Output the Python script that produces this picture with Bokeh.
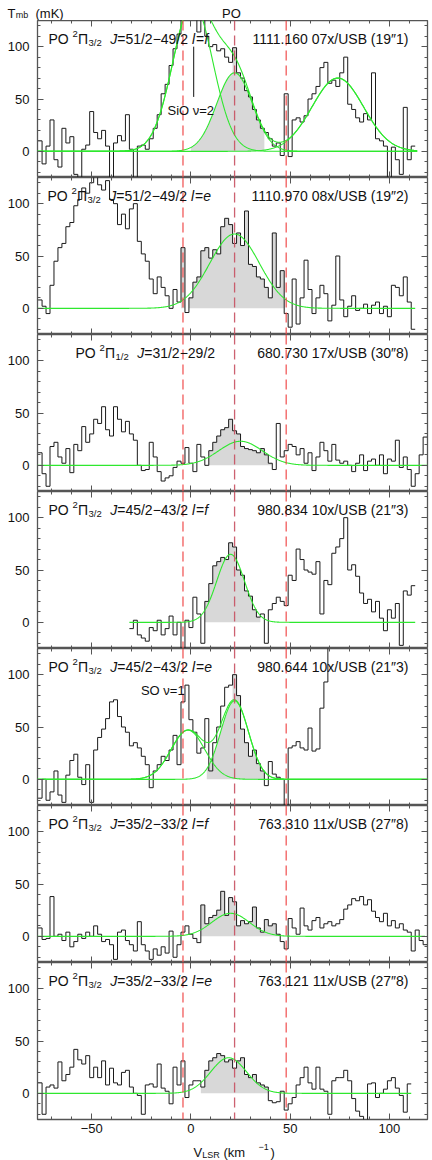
import numpy as np
from bokeh.plotting import figure
from bokeh.models import Range1d, LinearAxis, SingleIntervalTicker, Label, Span
from bokeh.layouts import column
from bokeh.embed import file_html
from bokeh.resources import INLINE

# ---------------- data ----------------
CHANNEL_WIDTH = 2.0          # km/s
X_RANGE = (-77.3, 119.2)
Y_RANGE = (-25.0, 125.0)
red_lines = [-4.0, 22.0, 48.0]

# spectra: first channel centre velocity and T_mb (mK) per channel
p1_v0 = -76.0
p1_tmb = [10, -12, 5, 30, -8, -15, 22, 8, 14, -22,
          -28, 2, 6, 38, 18, 12, 20, 5, -26, 8,
          15, 10, 35, 2, -28, 5, 6, 2, 12, 22,
          35, 55, 64, 82, 98, 112, 135, 150, 140, 150,
          114, 135, 110, 100, 102, 96, 98, 90, 85, 99,
          75, 70, 58, 52, 40, 30, 22, 18, 12, 5,
          8, -4, 55, -5, 30, 32, 28, 34, 50, 55,
          62, 80, 85, 65, 68, 62, 75, 90, 45, 40,
          32, 28, 36, 30, 75, 12, 10, 5, -25, 4,
          -8, -22, 42, -8, 5]
p2_v0 = -76.0
p2_tmb = [8, 2, -5, 22, 45, 58, 62, 78, 82, 98,
          104, 115, 110, 120, 128, 118, 113, 122, 104, 100,
          80, 90, 76, 95, 100, 64, 52, 45, 28, 14,
          30, 20, 12, 0, 18, 6, 58, -4, 10, 25,
          30, 55, 58, 48, 56, 52, 78, 86, 80, 62,
          72, 60, 93, 42, 40, 30, 28, 20, 10, 72,
          20, 36, -5, -18, 28, -15, 10, 46, 18, -5,
          10, 22, 14, -12, 3, 50, 8, -8, 2, 12,
          -2, 0, 4, -5, 3, 6, -5, 2, -8, 22,
          20, 12, 30, 6, -20]
p3_v0 = -76.0
p3_tmb = [12, -8, -20, 18, 22, 8, 2, 16, -7, 20,
          14, 37, 22, 30, 44, 40, 56, 34, 28, 56,
          44, 32, 42, 30, 24, 0, -5, -4, 22, 8,
          -6, -15, -12, -10, -2, 4, 2, 17, 2, -6,
          20, 8, 0, 14, 22, 28, 34, 36, 44, 33,
          30, 18, 16, 15, 14, 12, 16, 10, 2, -4,
          40, 8, 14, 20, 18, 10, 16, 2, 12, -5,
          8, 22, 14, 4, 20, 5, 2, 4, 0, -6,
          2, 10, -5, 4, 6, 0, 10, -8, 6, 4,
          24, -2, 8, -4, -20, -8, 10, 27]
p4_v0 = -30.0
p4_tmb = [-6, 2, -12, -15, -18, -5, -8, 2, -12, -6,
          6, -12, 0, -25, 2, -5, 24, 8, -20, 20,
          37, 54, 58, 62, 60, 76, 72, 50, 45, 30,
          25, 12, 5, 8, -20, 12, 18, 24, 20, 16,
          45, 40, 70, 60, 50, 48, 46, 58, 8, 40,
          36, 66, 72, 80, 100, 50, 55, 44, 28, 18,
          22, 10, 20, 4, -8, 12, 4, 18, -22, 30,
          26, 35]
p5_v0 = -76.0
p5_tmb = [-18, 0, -20, -12, 8, -15, -22, 4, 18, 24,
          2, -5, 14, -22, 28, 40, 48, 58, 74, 76,
          60, 50, 45, 32, 35, 30, 22, 14, -8, 8,
          14, 22, 18, 28, 42, 14, 74, 90, 57, 45,
          25, 30, 58, 8, 35, 50, 70, 88, 90, 100,
          80, 48, 35, 22, 28, 15, 8, -6, 17, 5,
          2, 0, -28, 30, 32, 36, 30, 28, 49, 27,
          29, 68, 93, 140, 170]
p6_v0 = -76.0
p6_tmb = [8, -3, -2, 38, 0, 2, -4, 4, -10, -5,
          2, -2, 4, 0, 10, 2, -5, -3, -8, -22,
          4, 6, -4, -8, -14, 14, -8, -14, -22, -12,
          -18, -10, -16, 5, -20, -8, 4, 10, 2, -2,
          -6, 30, 12, 18, 20, 25, 43, 20, 37, 33,
          10, 15, 12, 14, 28, 8, 4, 16, 10, 12,
          2, -5, -12, 17, 8, 2, 27, 10, 6, 15,
          18, 8, 12, 14, 10, 12, 16, 26, 30, 36,
          34, 38, 30, 35, 24, 18, 14, 22, 10, 15,
          8, 12, 6, 4, -14, 6, -4, -8]
p7_v0 = -76.0
p7_tmb = [10, -20, 6, 8, 5, 30, 12, 18, 25, 42,
          32, 28, 36, 15, 25, 15, 31, 8, 24, 10,
          8, 20, 22, 6, 0, -2, -20, 8, 9, 6,
          28, 5, 2, -10, 25, 8, 31, -4, 8, 12,
          12, 6, 22, 31, 34, 38, 36, 30, 32, 24,
          31, 34, 18, 15, 18, 10, 8, 6, -7, -9,
          -8, 2, -16, -10, -4, 8, 15, 25, 10, 4,
          25, 4, 2, -20, 12, 15, 15, 22, 12, -5,
          -17, -22, -28, 9, 10, -4, 0, 4, 12, 15,
          5, -2, -18, 9]

# Gaussian fit components (first one = PO line): amplitude (mK), centre, sigma (km/s)
p1_amp, p1_ctr, p1_sig = [75, 142, 70], [22, 1, 74], [9, 10, 13]
p2_amp, p2_ctr, p2_sig = [71], [22], [12.5]
p3_amp, p3_ctr, p3_sig = [23], [25], [11]
p4_amp, p4_ctr, p4_sig = [65], [20], [7]
p5_amp, p5_ctr, p5_sig = [75, 47], [22, -1.5], [7, 8.5]
p6_amp, p6_ctr, p6_sig = [22], [20], [9.5]
p7_amp, p7_ctr, p7_sig = [34], [19], [9]

fit_lo = [-77.3, -77.3, -77.3, -31.0, -77.3, -77.3, -77.3]
fit_hi = [114.0, 113.0, 119.2, 113.0, 119.2, 118.0, 111.0]
fill_lo = [0, -5, 7, 5, 8, 5, 5]
fill_hi = [37, 47, 41, 35, 37, 45, 39]
fill_gauss_left = [True, False, False, False, True, False, False]

panel_omega = ["3/2", "3/2", "1/2", "3/2", "3/2", "3/2", "3/2"]
panel_trans = ["=51/2\u221249/2", "=51/2\u221249/2", "=31/2\u221229/2", "=45/2\u221243/2",
               "=45/2\u221243/2", "=35/2\u221233/2", "=35/2\u221233/2"]
panel_parity = ["f", "e", "", "f", "e", "f", "e"]
panel_freq = ["1111.160 07x/USB (19\u20331)", "1110.970 08x/USB (19\u20332)",
              "680.730 17x/USB (30\u20338)", "980.834 10x/USB (21\u20333)",
              "980.644 10x/USB (21\u20333)", "763.310 11x/USB (27\u20338)",
              "763.121 11x/USB (27\u20338)"]

spectra = [(p1_v0, p1_tmb), (p2_v0, p2_tmb), (p3_v0, p3_tmb), (p4_v0, p4_tmb),
           (p5_v0, p5_tmb), (p6_v0, p6_tmb), (p7_v0, p7_tmb)]
fits = [(p1_amp, p1_ctr, p1_sig), (p2_amp, p2_ctr, p2_sig), (p3_amp, p3_ctr, p3_sig),
        (p4_amp, p4_ctr, p4_sig), (p5_amp, p5_ctr, p5_sig), (p6_amp, p6_ctr, p6_sig),
        (p7_amp, p7_ctr, p7_sig)]

# ---------------- style ----------------
FONT = "Liberation Sans"
PANEL_HS = [157, 157, 157, 157, 157, 157, 157]
HEADER = 20
FOOTER = 19
XLAB = 22
WIDTH = 432
LEFT = 37
RIGHT = 5
TXT = "#111111"
GREEN = "#2ee82e"
GREY = "#d8d8d8"
FRAME = "#555555"

W = {' ': .278, '/': .278, '.': .278, '=': .584, '\u2212': .584, 'P': .667, 'O': .778,
     '\u03a0': .722, 'J': .5, 'l': .222, 'f': .278, 'e': .556}


def tw(s, size):
    return size * sum(W.get(ch, .556) for ch in s)


def add_text(p, x, y, text, size=14, style="normal", align="left", units="screen", color=TXT):
    p.add_layout(Label(x=x, y=y, x_units=units, y_units=units, text=text, text_font=FONT,
                       text_font_size=f"{size}px", text_font_style=style, text_align=align,
                       text_baseline="alphabetic", text_color=color))


def make_axis(labels, overrides):
    ax = LinearAxis(ticker=SingleIntervalTicker(interval=50, num_minor_ticks=5))
    ax.axis_line_color = None
    ax.major_tick_in = 6
    ax.major_tick_out = 0
    ax.minor_tick_in = 3
    ax.minor_tick_out = 0
    ax.major_tick_line_color = FRAME
    ax.minor_tick_line_color = FRAME
    if labels:
        ax.major_label_text_font = FONT
        ax.major_label_text_font_size = "13px"
        ax.major_label_text_color = TXT
        ax.major_label_standoff = 8
        ax.major_label_overrides = overrides
    else:
        ax.major_label_text_font_size = "0px"
        ax.major_label_standoff = 0
        ax.major_label_overrides = overrides
    return ax


def blank_fig(h):
    f = figure(width=WIDTH, height=h, x_range=Range1d(0, 1), y_range=Range1d(0, 1),
               x_axis_location=None, y_axis_location=None, output_backend="svg",
               toolbar_location=None, min_border=0, min_border_left=0, min_border_right=0,
               min_border_top=0, min_border_bottom=0)
    f.xgrid.visible = False
    f.ygrid.visible = False
    f.outline_line_color = None
    f.background_fill_color = "white"
    f.border_fill_color = "white"
    aligned = True
    if "frame_align" in f.properties():
        f.frame_align = False
        aligned = False
    return f, (LEFT if aligned else 0)


# header: y-axis title and species name
hdr, off = blank_fig(HEADER)
add_text(hdr, 7 - off, 7, "T", size=13)
add_text(hdr, 15.2 - off, 5.5, "mb", size=9)
add_text(hdr, 35 - off, 7, "(mK)", size=13)
add_text(hdr, 231 - off, 7, "PO", size=13, align="center")

xr = Range1d(*X_RANGE)
figs = [hdr]
for i in range(7):
    ph = PANEL_HS[i]
    bot = FOOTER if i == 6 else 0
    p = figure(width=WIDTH, height=ph + bot, x_range=xr,
               y_range=Range1d(*Y_RANGE), x_axis_location=None, y_axis_location=None,
               output_backend="svg", toolbar_location=None,
               min_border_left=LEFT, min_border_right=RIGHT, min_border_top=0,
               min_border_bottom=bot)
    p.xgrid.visible = False
    p.ygrid.visible = False
    p.outline_line_color = FRAME
    p.outline_line_width = 1.3
    p.background_fill_color = "white"
    p.border_fill_color = "white"

    hide_x = {-50: "", 0: "", 50: "", 100: ""}
    hide_y = {0: "", 50: "", 100: ""}
    if i == 6:
        bx = make_axis(True, {-50: "\u221250"})
        bx.major_label_standoff = 4
    else:
        bx = make_axis(False, hide_x)
    p.add_layout(bx, "below")
    p.add_layout(make_axis(False, hide_x), "above")
    p.add_layout(make_axis(True, {}), "left")
    p.add_layout(make_axis(False, hide_y), "right")

    v0, tmb = spectra[i]
    tmb = np.array(tmb, dtype=float)
    vel = v0 + CHANNEL_WIDTH * np.arange(len(tmb))
    half = CHANNEL_WIDTH / 2
    amp, ctr, sig = fits[i]

    # grey filled area
    if fill_gauss_left[i]:
        xg = np.linspace(fill_lo[i], ctr[0], 200)
        yg = amp[0] * np.exp(-0.5 * ((xg - ctr[0]) / sig[0]) ** 2)
        p.varea(x=xg, y1=np.zeros_like(xg), y2=yg, fill_color=GREY)
        sel = (vel >= ctr[0]) & (vel + half <= fill_hi[i])
    else:
        sel = (vel - half >= fill_lo[i]) & (vel + half <= fill_hi[i])
    vs = vel[sel]
    ts = np.clip(tmb[sel], 0, None)
    fx = np.column_stack([vs - half, vs + half]).ravel()
    fy = np.repeat(ts, 2)
    p.varea(x=fx, y1=np.zeros_like(fx), y2=fy, fill_color=GREY)

    # spectrum histogram
    sx = np.column_stack([vel - half, vel + half]).ravel()
    sy = np.repeat(tmb, 2)
    p.line(sx, sy, line_color="#1a1a1a", line_width=1)

    # Gaussian fits
    xf = np.linspace(fit_lo[i], fit_hi[i], 900)
    comps = [a * np.exp(-0.5 * ((xf - c) / s) ** 2) for a, c, s in zip(amp, ctr, sig)]
    for comp in comps:
        p.line(xf, comp, line_color=GREEN, line_width=1.1)
    if len(comps) > 1:
        p.line(xf, np.sum(comps, axis=0), line_color=GREEN, line_width=1.1)

    # dashed reference velocities
    for k, loc in enumerate(red_lines):
        p.add_layout(Span(location=loc, dimension="height",
                          line_color="#c85060" if k == 1 else "#f04848",
                          line_dash="10 5", line_width=1.3, line_alpha=0.9))

    # panel label
    yb = ph - 18.5
    x = 38 if i == 2 else (10 if i == 1 else 11)
    add_text(p, x, yb, "PO")
    x += tw("PO ", 14)
    add_text(p, x, yb + 5, "2", size=9.5)
    x += tw("2", 9.5)
    add_text(p, x, yb, "\u03a0")
    x += tw("\u03a0", 14) + 0.5
    add_text(p, x, yb - 3.5, panel_omega[i], size=9.5)
    x += tw(panel_omega[i], 9.5) + 8.5
    add_text(p, x, yb, "J", style="italic")
    x += tw("J", 14)
    add_text(p, x, yb, panel_trans[i])
    x += tw(panel_trans[i], 14) + tw(" ", 14)
    if panel_parity[i]:
        add_text(p, x, yb, "l", style="italic")
        x += tw("l", 14) + 1
        add_text(p, x, yb, "=")
        x += tw("=", 14)
        add_text(p, x, yb, panel_parity[i], style="italic")
    add_text(p, 371, yb, panel_freq[i], align="right")

    if i == 0:
        add_text(p, -11.8, 39, "SiO \u03bd=2", size=13, units="data")
        p.segment(x0=[1.4], y0=[52], x1=[1.4], y1=[100], line_color="#111", line_width=1)
    if i == 4:
        add_text(p, -25.2, 85, "SO \u03bd=1", size=13, units="data")
    figs.append(p)

# x-axis title
xl, off = blank_fig(XLAB)
add_text(xl, 193 - off, 8, "V", size=13)
add_text(xl, 201.7 - off, 5.5, "LSR", size=9)
add_text(xl, 223 - off, 8, "(km", size=13)
add_text(xl, 258 - off, 13.5, "\u22121", size=9)
add_text(xl, 270 - off, 8, ")", size=13)
figs.append(xl)

layout = column(*figs, spacing=0)
open("out.html", "w").write(file_html(layout, INLINE))
